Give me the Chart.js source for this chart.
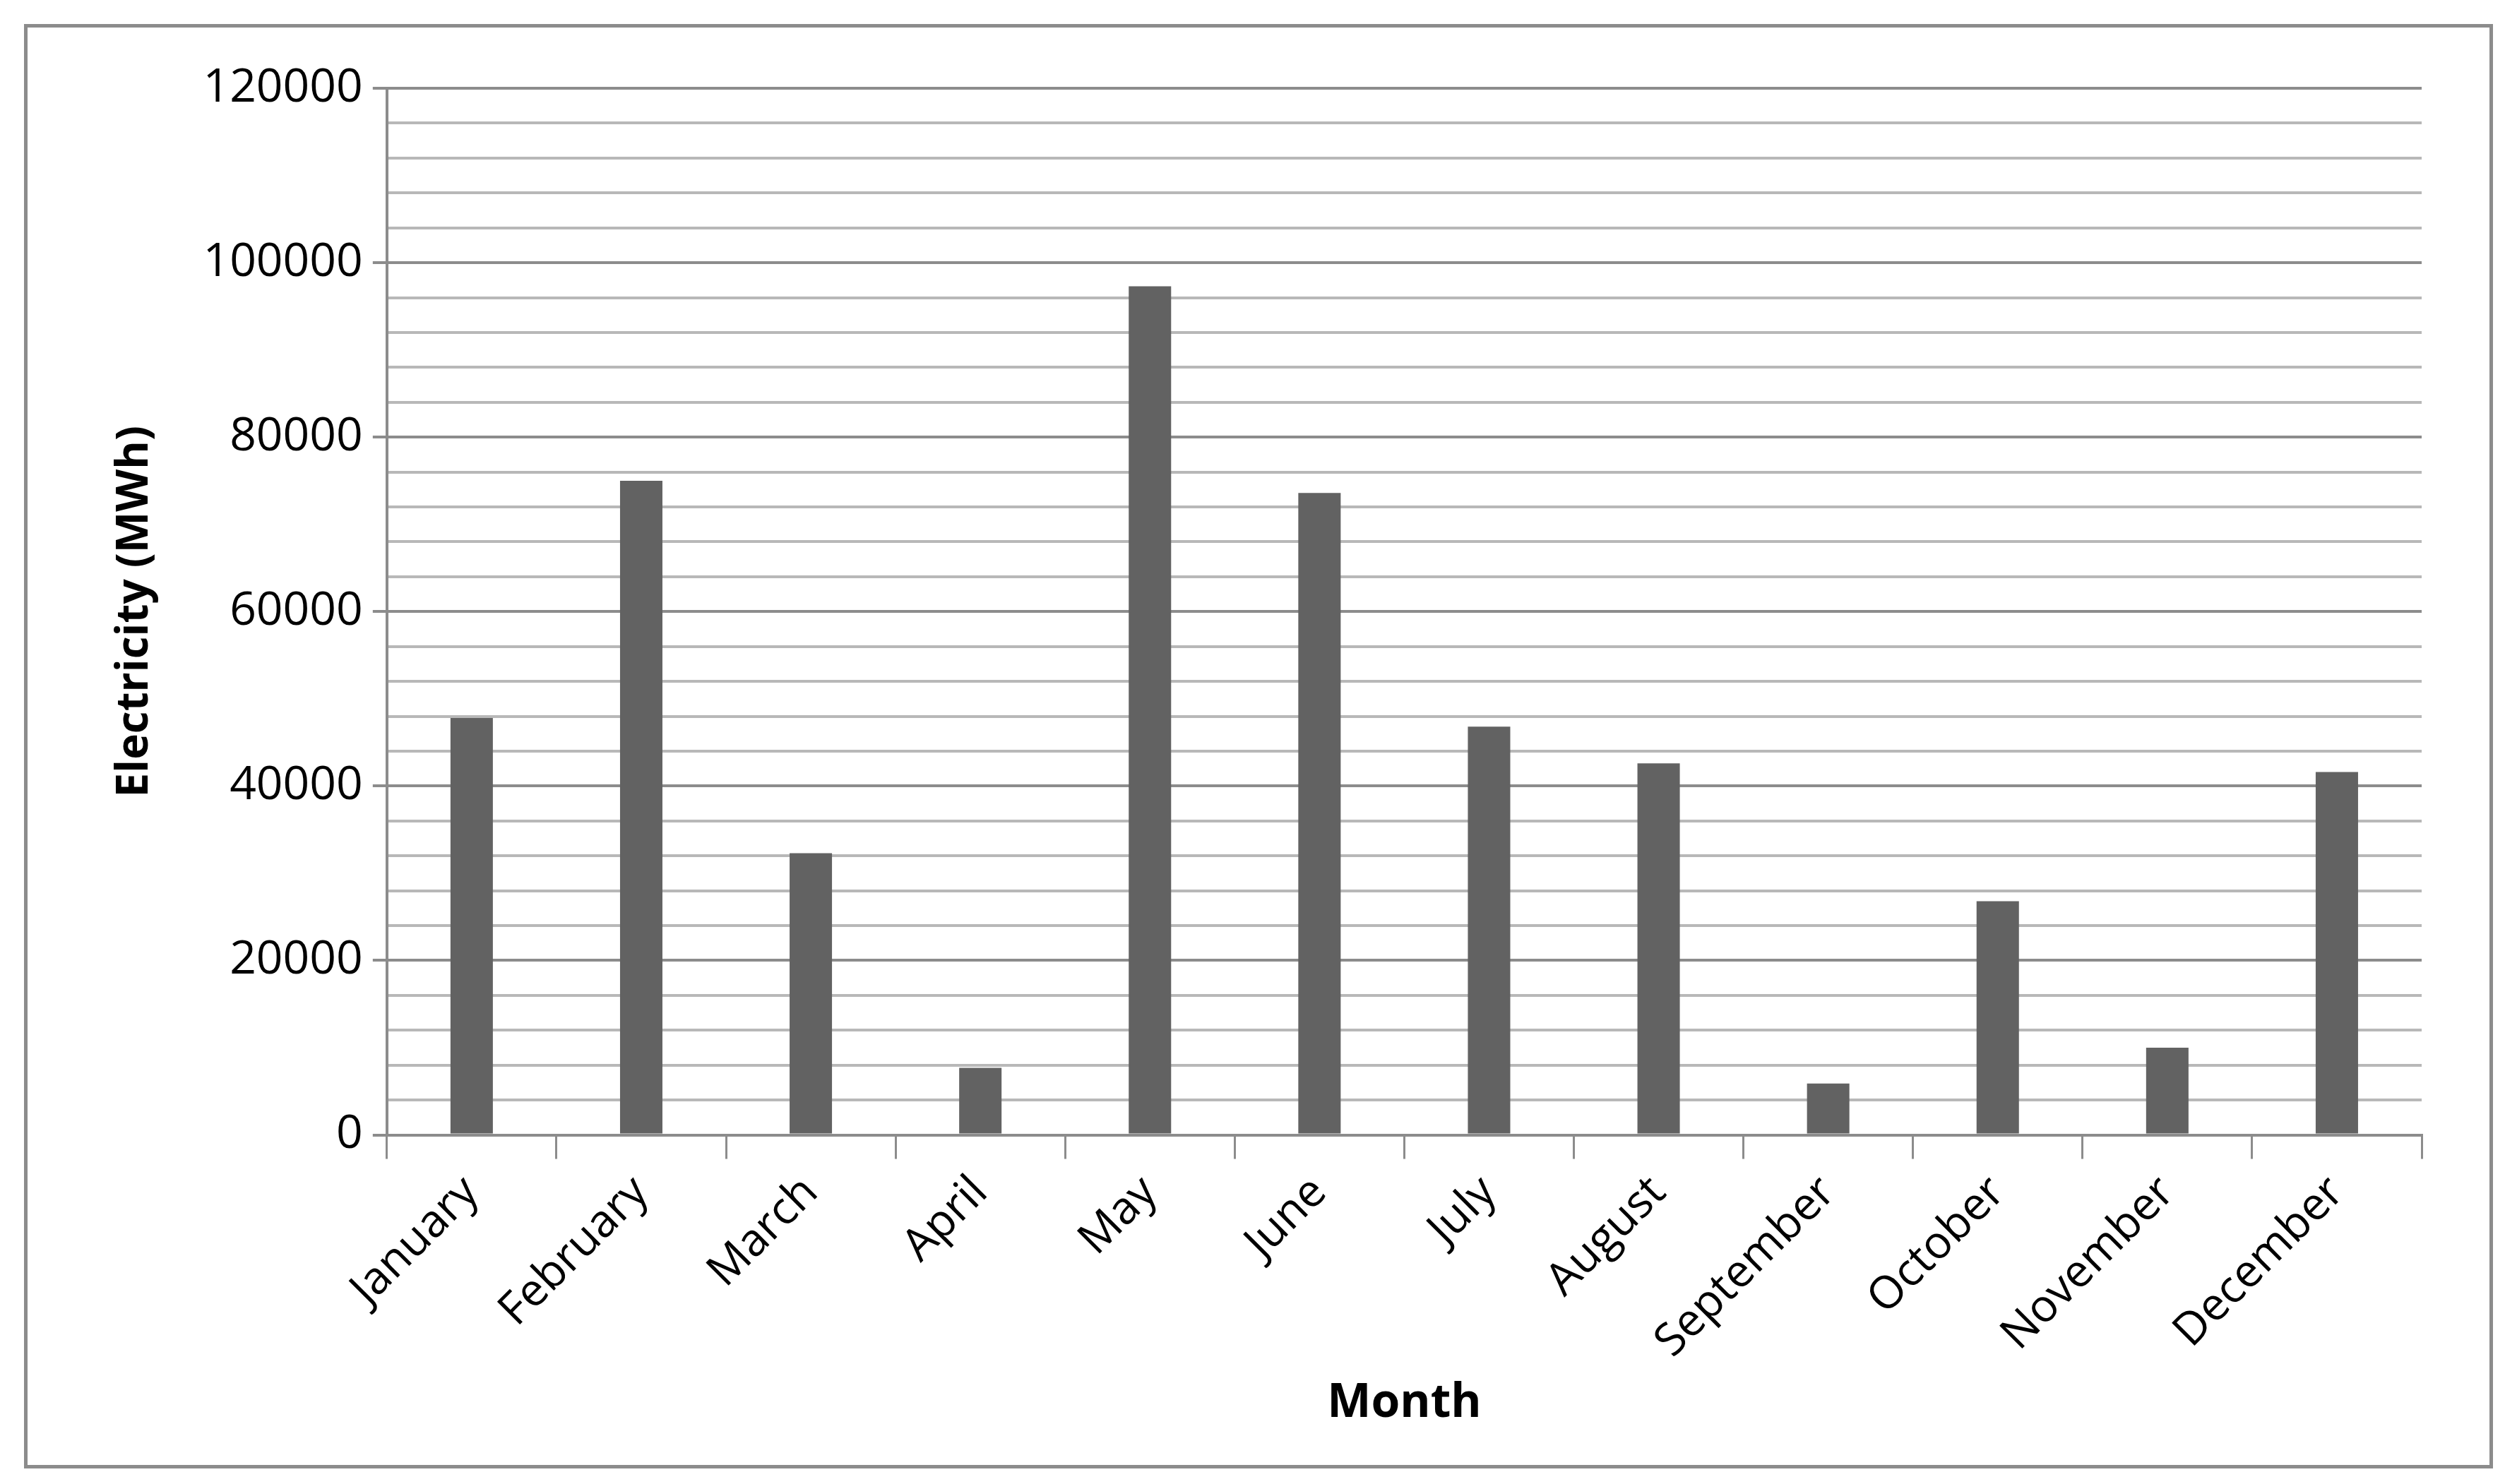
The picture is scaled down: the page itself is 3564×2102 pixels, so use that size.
<!DOCTYPE html>
<html>
<head>
<meta charset="utf-8">
<script src="https://cdn.jsdelivr.net/npm/chart.js@4"></script>
<style>
  body { margin: 0; background: #fff; }
  #frame { position: absolute; left: 34px; top: 34px; width: 3496px; height: 2046px; border: 5px solid #8c8c8c; box-sizing: border-box; }
  canvas { position: absolute; left: 0; top: 0; }
</style>
</head>
<body>
<div id="frame"></div>
<canvas id="c" width="3564" height="2102"></canvas>
<script>
const months = ['January', 'February', 'March', 'April', 'May', 'June', 'July', 'August', 'September', 'October', 'November', 'December'];
const electricity = [47800, 75000, 32300, 7700, 97300, 73600, 46800, 42600, 5900, 26800, 10000, 41600];
const yMax = 120000;
const yStep = 4000;
const yLabelStep = 20000;

const font = "'Open Sans', 'Noto Sans', sans-serif";

new Chart(document.getElementById('c'), {
    type: 'bar',
    data: {
        labels: months,
        datasets: [{ data: electricity, backgroundColor: '#626262', barPercentage: 0.25, categoryPercentage: 1 }]
    },
    options: {
        responsive: false, animation: false,
        devicePixelRatio: 1,
        layout: { padding: { left: 150, right: 135, top: 125, bottom: 70 } },
        plugins: { legend: { display: false }, tooltip: { enabled: false } },
        scales: {
            x: {
                grid: { offset: true, drawOnChartArea: false, color: '#8c8c8c', lineWidth: 3, tickLength: 34 },
                border: { color: '#8c8c8c', width: 4 },
                ticks: { color: '#000', font: { family: font, size: 64 }, minRotation: 45, maxRotation: 45, padding: 10 },
                title: { display: true, text: 'Month', color: '#000', font: { family: font, size: 66, weight: 'bold' }, padding: { top: 0 } }
            },
            y: {
                min: 0, max: yMax,
                grid: {
                    color: ctx => ctx.tick && ctx.tick.value % yLabelStep === 0 ? '#8c8c8c' : '#b8b8b8',
                    tickColor: ctx => ctx.tick && ctx.tick.value % yLabelStep === 0 ? '#8c8c8c' : 'rgba(0,0,0,0)',
                    lineWidth: 4, tickLength: 20
                },
                border: { color: '#8c8c8c', width: 4 },
                ticks: { stepSize: yStep, autoSkip: false, color: '#000', font: { family: font, size: 66 }, padding: 14,
                    callback: v => v % yLabelStep === 0 ? String(v) : '' },
                title: { display: true, text: 'Electricity (MWh)', color: '#000', font: { family: font, size: 62, weight: 'bold' }, padding: { bottom: 45 } }
            }
        }
    }
});
</script>
</body>
</html>
